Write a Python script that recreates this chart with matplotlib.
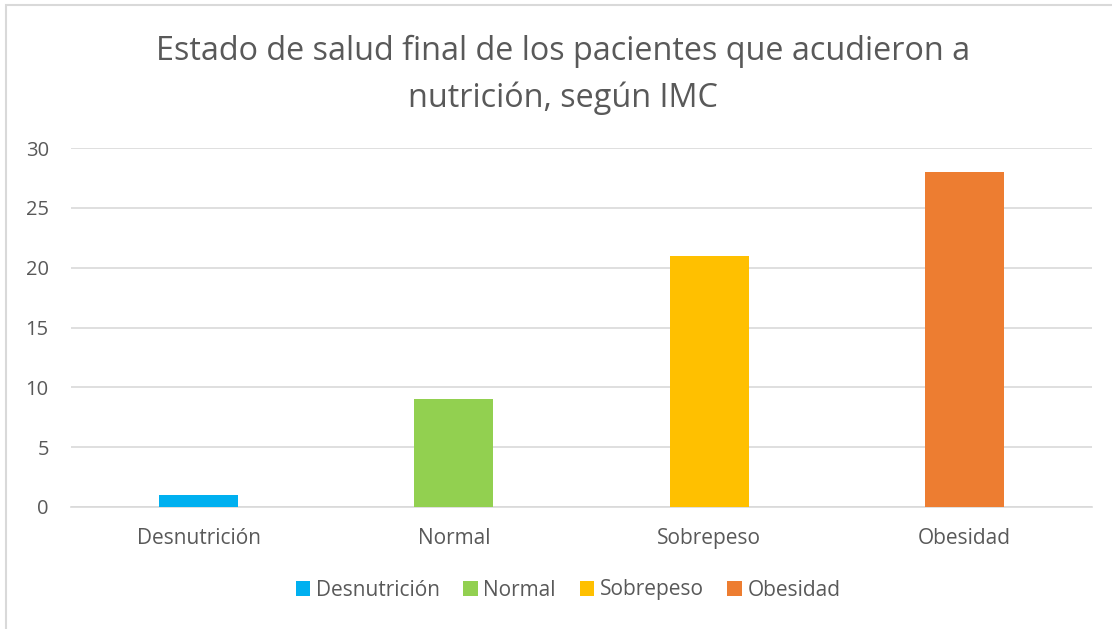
import matplotlib
matplotlib.use("Agg")
import matplotlib.pyplot as plt
from matplotlib.patches import Rectangle, Patch

categories = ["Desnutrición", "Normal", "Sobrepeso", "Obesidad"]
values = [1, 9, 21, 28]
colors = ["#00B0F0", "#92D050", "#FFC000", "#ED7D31"]
yticks = [0, 5, 10, 15, 20, 25, 30]
title = "Estado de salud final de los pacientes que acudieron a\nnutrición, según IMC"

plt.rcParams['font.family'] = ['Open Sans', 'DejaVu Sans']
W, H = 1112, 629
fig = plt.figure(figsize=(W / 100, H / 100), dpi=100)

# outer chart frame
fig.patches.append(Rectangle((5.5 / W, -0.1), 1.2, 1 - 5.5 / H + 0.1,
                             transform=fig.transFigure, fill=False,
                             edgecolor="#D9D9D9", linewidth=1.5))

left, right = 71 / W, 1092 / W
bottom, top = 1 - 507 / H, 1 - 148 / H
ax = fig.add_axes([left, bottom, right - left, top - bottom])
x = list(range(len(categories)))
ax.bar(x, values, width=0.31, color=colors, zorder=3)
ax.set_xlim(-0.5, 3.5)
ax.set_ylim(0, 30)
ax.set_yticks(yticks)
ax.set_xticks(x)
ax.set_xticklabels(categories)
ax.yaxis.grid(True, color="#D9D9D9", linewidth=1.2, zorder=0)
for s in ["top", "right", "left"]:
    ax.spines[s].set_visible(False)
ax.spines["bottom"].set_color("#D9D9D9")
ax.spines["bottom"].set_linewidth(1.2)
ax.tick_params(axis="both", length=0, labelsize=14.5, labelcolor="#595959")
ax.tick_params(axis="x", pad=15, labelsize=15)
ax.tick_params(axis="y", pad=16)

fig.text(563 / W, 1 - 75 / H, title, ha="center", va="center",
         fontsize=23.3, color="#595959", linespacing=1.55)

handles = [Patch(facecolor=c, edgecolor="none") for c in colors]
fig.legend(handles, categories, loc="center", bbox_to_anchor=(568 / W, 1 - 590 / H),
           ncol=4, frameon=False, fontsize=15, labelcolor="#595959",
           handlelength=0.7, handleheight=0.7, handletextpad=0.25, columnspacing=1.15)

fig.savefig("out.png", dpi=100)
